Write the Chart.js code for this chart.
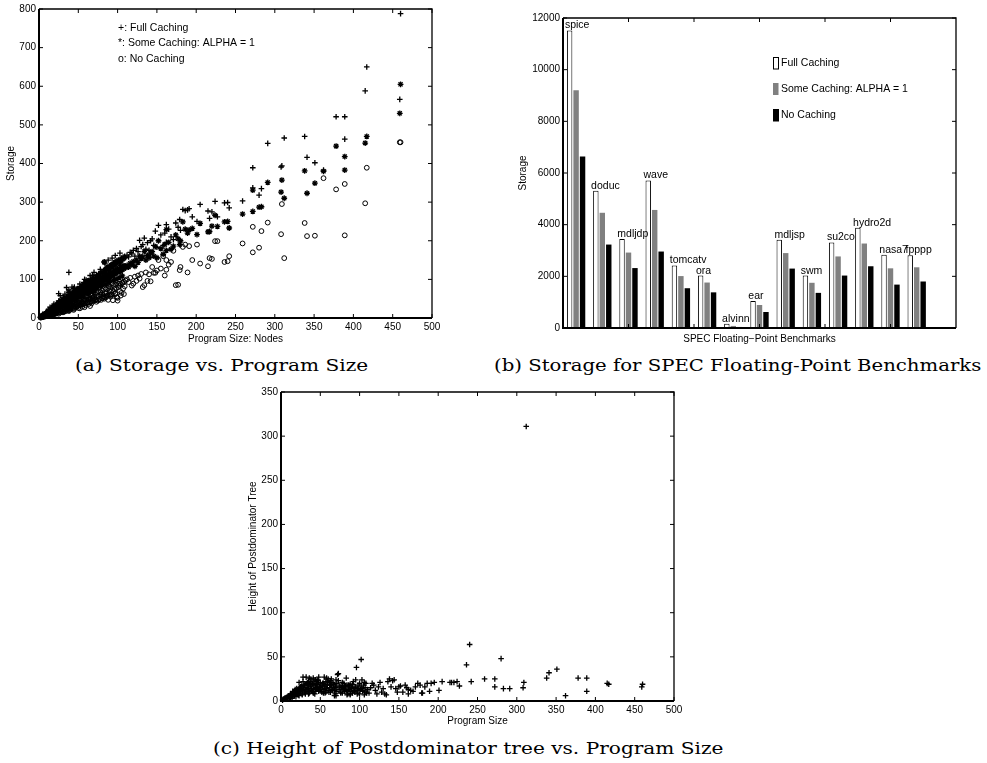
<!DOCTYPE html>
<html>
<head>
<meta charset="utf-8">
<script src="https://cdn.jsdelivr.net/npm/chart.js@4.4.1/dist/chart.umd.min.js"></script>
<style>
  html, body { margin: 0; padding: 0; background: #ffffff; }
  body { width: 987px; height: 763px; position: relative; overflow: hidden; }
  canvas { position: absolute; }
  .cap { position: absolute; white-space: nowrap; font-family: "DejaVu Serif", "Liberation Serif", serif;
         font-size: 17px; line-height: 20px; color: #000; transform-origin: 0 50%; }
</style>
</head>
<body>
<canvas id="chartA" width="445" height="350" style="left:0px;top:0px;"></canvas>
<canvas id="chartB" width="497" height="345" style="left:490px;top:0px;"></canvas>
<canvas id="chartC" width="460" height="350" style="left:230px;top:380px;"></canvas>
<div class="cap" id="capA">(a) Storage vs. Program Size</div>
<div class="cap" id="capB">(b) Storage for SPEC Floating-Point Benchmarks</div>
<div class="cap" id="capC">(c) Height of Postdominator tree vs. Program Size</div>
<script>
// ---------------- DATA ----------------
// One entry per program (same order in every array)
const progSize = [
  2,3,4,5,5,6,7,8,8,9,
  10,10,11,12,12,13,14,14,15,16,
  16,17,18,18,19,20,20,21,22,22,
  23,24,24,25,26,26,27,28,28,29,
  30,30,31,32,32,33,34,35,35,36,
  37,38,38,39,40,40,41,42,43,44,
  45,45,46,47,48,49,50,50,51,52,
  53,54,55,55,56,57,58,59,60,61,
  62,63,64,65,66,67,68,69,70,71,
  72,73,74,75,76,77,78,79,80,81,
  82,83,84,85,86,87,88,89,90,91,
  92,93,94,95,96,97,98,99,100,101,
  102,103,104,105,106,107,108,109,110,38,
  14,19,27,33,42,48,57,63,68,78,
  84,88,93,97,103,60,70,45,25,35,
  112,114,116,118,120,122,124,126,128,130,
  132,134,136,138,140,142,144,146,148,150,
  152,155,158,160,162,162,165,168,171,174,
  177,179,180,183,186,189,191,195,201,205,
  215,217,220,224,227,236,240,242,259,272,
  272,280,283,291,308,309,312,338,341,351,
  362,378,389,389,415,417,459,460,
  3,6,9,11,13,15,17,19,21,23,
  24,26,27,29,31,33,34,36,37,39,
  41,43,44,46,48,49,51,53,54,56,
  57,59,61,62,64,66,67,69,71,73,
  74,76,78,80,81,83,85,86,88,90,
  91,93,95,97,98,100,102,104,106,108,
  5,12,18,25,31,38,44,52,58,65,
  7,15,22,28,35,41,47,55,63,70
];
const fullCaching = [
  2,4,5,7,6,8,10,11,9,13,
  14,12,16,17,15,19,22,18,21,25,
  21,26,24,29,27,30,26,33,31,35,
  34,38,33,40,37,44,39,42,47,41,
  45,40,48,46,51,44,50,55,47,53,
  56,52,118,58,62,55,60,64,59,67,
  68,62,71,66,73,70,76,68,74,79,
  77,82,80,74,85,83,88,81,90,86,
  92,89,95,93,98,91,101,96,104,99,
  106,102,110,105,113,108,116,111,119,114,
  121,145,124,128,122,131,126,134,129,137,
  132,140,135,143,138,146,141,149,144,150,
  147,152,145,155,150,158,153,160,156,54,
  28,36,58,62,80,74,92,97,110,126,
  140,150,155,162,168,98,118,80,63,79,
  163,158,170,166,175,160,180,172,201,185,
  190,207,178,195,175,200,205,188,225,183,
  240,215,188,220,242,196,230,210,203,246,
  235,255,227,281,278,280,283,262,250,294,
  277,258,275,302,262,298,299,285,303,337,
  389,318,335,452,391,394,466,470,416,402,
  383,521,521,463,588,650,566,788,
  5,7,14,13,20,18,27,23,33,28,
  31,41,34,46,39,52,43,56,47,60,
  50,66,55,72,58,76,62,81,66,86,
  70,92,75,96,79,101,82,106,86,111,
  90,115,94,120,97,125,101,130,104,135,
  108,138,112,143,116,147,120,151,125,155,
  10,22,32,44,54,66,76,88,100,110,
  8,17,25,32,40,47,54,63,72,80
];
const someCaching = [
  2,3,4,6,5,7,8,9,8,11,
  12,10,13,14,13,16,18,15,18,20,
  18,21,20,24,22,25,22,27,26,29,
  28,31,28,33,31,36,33,35,39,34,
  37,34,40,38,42,37,41,45,39,44,
  46,43,70,48,51,45,50,53,49,55,
  56,51,58,55,60,57,63,56,61,65,
  64,68,66,61,70,69,72,67,74,71,
  76,73,78,77,81,75,83,79,86,82,
  88,84,91,87,93,89,96,92,98,94,
  99,145,102,105,100,108,104,110,106,113,
  109,116,111,118,114,121,117,123,119,125,
  122,127,120,129,125,131,128,134,130,45,
  17,23,35,43,55,61,76,80,90,103,
  118,125,130,137,140,81,96,66,38,51,
  136,132,142,138,146,134,150,144,160,154,
  158,172,150,162,156,168,172,160,185,156,
  200,180,165,190,229,175,196,178,186,215,
  205,190,200,249,230,220,228,232,216,245,
  223,224,238,266,237,249,250,233,269,276,
  331,287,288,351,326,357,310,381,323,349,
  380,445,418,383,453,470,530,605,
  4,6,12,12,17,16,23,21,28,25,
  27,35,30,40,34,45,37,48,41,51,
  44,57,48,62,51,65,54,70,58,74,
  61,79,65,83,68,87,71,91,75,95,
  79,99,82,104,85,108,88,112,91,116,
  95,119,98,124,101,127,105,131,109,135,
  8,19,27,37,46,56,65,75,85,94,
  7,15,22,28,35,41,47,55,63,70
];
const noCaching = [
  1,2,2,3,3,4,4,5,4,6,
  6,5,7,8,6,9,10,7,9,11,
  9,12,10,14,11,13,10,15,12,16,
  15,18,13,20,16,22,14,19,24,17,
  20,15,23,18,26,17,22,27,19,24,
  26,20,31,25,30,22,27,32,24,29,
  31,24,34,28,35,30,38,26,33,40,
  34,41,37,29,43,36,45,33,47,39,
  42,36,48,40,50,38,52,44,55,46,
  48,42,56,45,58,49,60,47,62,51,
  56,50,64,53,66,58,47,61,70,55,
  60,72,46,68,75,62,78,54,45,80,
  84,70,88,65,90,76,94,82,97,24,
  11,14,21,25,33,39,48,51,58,66,
  78,83,90,95,100,55,68,44,24,33,
  100,93,104,84,89,107,96,110,102,114,
  80,85,118,96,113,95,132,117,117,123,
  150,128,160,110,125,150,138,145,174,85,
  86,124,132,184,190,118,186,150,190,141,
  134,155,153,199,199,145,147,160,193,170,
  236,182,225,247,217,295,155,246,212,213,
  362,333,347,214,297,389,455,455,
  2,5,5,9,8,12,10,16,13,19,
  20,17,23,19,27,21,29,23,32,26,
  35,27,38,30,41,32,45,35,48,37,
  50,38,53,40,56,43,59,45,62,47,
  65,49,68,52,71,54,74,57,77,59,
  80,61,83,64,86,52,89,58,92,62,
  3,6,8,11,15,18,21,25,28,31,
  5,10,16,20,26,30,35,41,47,52
];
const pdtHeight = [
  1,2,2,3,2,3,4,4,3,5,
  4,6,5,7,4,6,8,5,9,7,
  10,6,11,8,12,9,14,10,13,7,
  21,11,15,9,14,17,12,27,16,13,
  10,18,13,27,15,11,19,14,22,26,
  12,25,17,14,20,11,26,24,18,13,
  22,14,19,24,12,17,21,15,11,18,
  16,20,13,19,9,22,14,18,12,21,
  15,10,19,13,21,17,12,8,16,20,
  30,31,13,18,10,15,9,14,20,11,
  16,12,18,8,13,17,7,11,14,9,
  22,15,10,16,38,12,18,14,8,13,
  47,24,11,18,7,15,20,9,13,22,
  3,5,8,20,9,27,10,23,6,17,
  7,19,12,8,14,25,6,20,12,8,
  9,15,20,18,12,8,16,21,10,14,
  8,7,22,25,16,23,24,14,10,16,
  17,10,18,15,13,8,12,11,16,20,
  18,9,9,16,20,11,20,21,12,22,
  21,21,21,22,17,41,64,22,25,16,
  25,48,14,14,15,21,311,26,32,36,
  6,26,26,11,20,19,16,19,
  2,3,5,4,7,6,9,8,12,6,
  11,14,7,18,10,13,21,9,16,12,
  19,8,15,23,11,16,13,20,9,17,
  14,22,10,18,25,12,19,15,11,23,
  16,9,21,13,17,26,12,18,8,15,
  19,11,24,14,9,20,16,12,21,10,
  3,8,13,16,8,20,24,10,26,13,
  4,11,7,22,18,9,14,27,18,24
];

// SPEC floating-point benchmarks (panel b)
const benchmarks = ['spice','doduc','mdljdp','wave','tomcatv','ora','alvinn','ear','mdljsp','swm','su2co','hydro2d','nasa7','fpppp'];
const benchFull = [11520, 5310, 3450, 5710, 2420, 2030, 160, 1050, 3420, 2030, 3310, 3880, 2840, 2820];
const benchSome = [9200, 4460, 2920, 4570, 2010, 1760, 80, 890, 2900, 1750, 2770, 3270, 2310, 2350];
const benchNone = [6640, 3230, 2320, 2960, 1540, 1380, 40, 620, 2300, 1360, 2030, 2390, 1680, 1800];
const benchTickSlots = [2.5, 5, 7.5, 10, 12.5];

const scatterLegend = ['+: Full Caching', '*: Some Caching: ALPHA = 1', 'o: No Caching'];
const barLegend = ['Full Caching', 'Some Caching: ALPHA = 1', 'No Caching'];

[fullCaching, someCaching, noCaching, pdtHeight].forEach((a, k) => {
  if (a.length !== progSize.length) throw new Error('length mismatch in array ' + k + ': ' + a.length + ' vs ' + progSize.length);
});

// ---------------- HELPERS ----------------
const AXFONT = { family: '"Liberation Sans", Arial, Helvetica, sans-serif', size: 10 };
const LBLFONT = '10.5px "Liberation Sans", Arial, Helvetica, sans-serif';

const frameTicks = {
  id: 'frameTicks',
  afterDraw(chart, args, opts) {
    const { ctx, chartArea: a } = chart;
    const xs = chart.scales.x, ys = chart.scales.y;
    const L = 4;
    ctx.save();
    ctx.strokeStyle = '#000';
    ctx.lineWidth = 1;
    ctx.beginPath();
    const xPix = (opts && opts.slots)
      ? opts.slots.map(s => xs.getPixelForValue(s - 0.5))
      : xs.ticks.map(t => xs.getPixelForValue(t.value));
    xPix.forEach(p => {
      ctx.moveTo(p, a.bottom); ctx.lineTo(p, a.bottom - L);
      ctx.moveTo(p, a.top); ctx.lineTo(p, a.top + L);
    });
    ys.ticks.forEach(t => {
      const p = ys.getPixelForValue(t.value);
      ctx.moveTo(a.left, p); ctx.lineTo(a.left + L, p);
      ctx.moveTo(a.right, p); ctx.lineTo(a.right - L, p);
    });
    ctx.stroke();
    ctx.lineWidth = 1.3;
    ctx.beginPath();
    ctx.moveTo(a.left, a.top); ctx.lineTo(a.right, a.top); ctx.lineTo(a.right, a.bottom);
    ctx.stroke();
    ctx.lineWidth = 2;
    ctx.beginPath();
    ctx.moveTo(a.left, a.top); ctx.lineTo(a.left, a.bottom); ctx.lineTo(a.right, a.bottom);
    ctx.stroke();
    ctx.restore();
  }
};

function linAxis(min, max, step, title, fixed, horizontal, titlePad, tickPad) {
  return {
    type: 'linear', min: min, max: max,
    ticks: { stepSize: step, color: '#000', font: AXFONT, padding: tickPad, autoSkip: false, maxRotation: 0,
             callback: v => String(v) },
    grid: { display: false, drawTicks: false },
    border: { display: false },
    title: { display: true, text: title, color: '#000', font: AXFONT, padding: titlePad },
    afterFit(scale) { if (horizontal) scale.height = fixed; else scale.width = fixed; }
  };
}

// ---------------- PANEL A ----------------
const scatterLegendPlugin = {
  id: 'scatterLegendPlugin',
  afterDraw(chart) {
    const { ctx, chartArea: a } = chart;
    ctx.save();
    ctx.fillStyle = '#000';
    ctx.font = LBLFONT;
    ctx.textBaseline = 'middle';
    ctx.textAlign = 'left';
    const dy = [19, 34.5, 50.5];
    scatterLegend.forEach((t, i) => ctx.fillText(t, a.left + 79, a.top + dy[i]));
    ctx.restore();
  }
};

new Chart(document.getElementById('chartA'), {
  type: 'scatter',
  data: {
    datasets: [
      { label: 'Full Caching', data: progSize.map((x, i) => ({ x: x, y: fullCaching[i] })),
        pointStyle: 'cross', radius: 2.8, borderColor: '#000', borderWidth: 1.3, clip: false },
      { label: 'Some Caching', data: progSize.map((x, i) => ({ x: x, y: someCaching[i] })),
        pointStyle: 'star', radius: 2.9, borderColor: '#000', borderWidth: 1.3, clip: false },
      { label: 'No Caching', data: progSize.map((x, i) => ({ x: x, y: noCaching[i] })),
        pointStyle: 'circle', radius: 2.4, borderColor: '#000', backgroundColor: 'rgba(0,0,0,0)', borderWidth: 1, clip: false }
    ]
  },
  options: {
    responsive: false, animation: false, devicePixelRatio: 1,
    layout: { padding: { left: 0, top: 9, right: 13, bottom: 0 } },
    plugins: { legend: { display: false }, tooltip: { enabled: false }, frameTicks: {} },
    scales: {
      x: linAxis(0, 500, 50, 'Program Size: Nodes', 32, true, { top: 0, bottom: 5 }, 3),
      y: linAxis(0, 800, 100, 'Storage', 39, false, { top: 5, bottom: 0 }, 3)
    }
  },
  plugins: [frameTicks, scatterLegendPlugin]
});

// ---------------- PANEL B ----------------
const barLabelPlugin = {
  id: 'barLabelPlugin',
  afterDatasetsDraw(chart) {
    const { ctx, chartArea: a } = chart;
    const meta = chart.getDatasetMeta(0);
    ctx.save();
    ctx.fillStyle = '#000';
    ctx.font = LBLFONT;
    ctx.textAlign = 'left';
    ctx.textBaseline = 'alphabetic';
    benchmarks.forEach((name, i) => {
      const el = meta.data[i];
      if (!el) return;
      ctx.fillText(name, el.x - el.width / 2 - 2, el.y - 2);
    });
    // legend
    const colors = ['#ffffff', '#808080', '#000000'];
    const dy = [45, 71, 97];
    barLegend.forEach((t, i) => {
      const x = a.left + 210, y = a.top + dy[i];
      ctx.fillStyle = colors[i];
      ctx.fillRect(x, y - 6, 5.5, 12);
      if (i !== 1) { ctx.strokeStyle = '#000'; ctx.lineWidth = 1; ctx.strokeRect(x + 0.5, y - 5.5, 5, 11.5); }
      ctx.fillStyle = '#000';
      ctx.textBaseline = 'middle';
      ctx.fillText(t, x + 8, y + 0.5);
    });
    ctx.restore();
  }
};

new Chart(document.getElementById('chartB'), {
  type: 'bar',
  data: {
    labels: benchmarks.concat(['']),
    datasets: [
      { label: barLegend[0], data: benchFull, backgroundColor: '#ffffff', borderColor: '#000', borderWidth: 1 },
      { label: barLegend[1], data: benchSome, backgroundColor: '#808080', borderWidth: 0 },
      { label: barLegend[2], data: benchNone, backgroundColor: '#000000', borderWidth: 0 }
    ]
  },
  options: {
    responsive: false, animation: false, devicePixelRatio: 1,
    categoryPercentage: 0.74, barPercentage: 0.84,
    layout: { padding: { left: 0, top: 18, right: 31, bottom: 0 } },
    plugins: { legend: { display: false }, tooltip: { enabled: false }, frameTicks: { slots: benchTickSlots } },
    scales: {
      x: {
        type: 'category', offset: true,
        ticks: { display: false },
        grid: { display: false, drawTicks: false },
        border: { display: false },
        title: { display: true, text: 'SPEC Floating\u2212Point Benchmarks', color: '#000', font: AXFONT, padding: { top: 0, bottom: 0 } },
        afterFit(scale) { scale.height = 17; }
      },
      y: linAxis(0, 12000, 2000, 'Storage', 73, false, { top: 27, bottom: 0 }, 3)
    }
  },
  plugins: [frameTicks, barLabelPlugin]
});

// ---------------- PANEL C ----------------
new Chart(document.getElementById('chartC'), {
  type: 'scatter',
  data: {
    datasets: [
      { label: 'Height', data: progSize.map((x, i) => ({ x: x, y: pdtHeight[i] })),
        pointStyle: 'cross', radius: 2.8, borderColor: '#000', borderWidth: 1.3, clip: false }
    ]
  },
  options: {
    responsive: false, animation: false, devicePixelRatio: 1,
    layout: { padding: { left: 0, top: 12, right: 16, bottom: 0 } },
    plugins: { legend: { display: false }, tooltip: { enabled: false }, frameTicks: {} },
    scales: {
      x: linAxis(0, 500, 50, 'Program Size', 29, true, { top: 0, bottom: 3 }, 3),
      y: linAxis(0, 350, 50, 'Height of Postdominator Tree', 51, false, { top: 17, bottom: 0 }, 3)
    }
  },
  plugins: [frameTicks]
});

// ---------------- CAPTIONS ----------------
(function () {
  const a = document.getElementById('capA'), b = document.getElementById('capB'), c = document.getElementById('capC');
  const s = 511 / c.offsetWidth;
  const sb = 487 / b.offsetWidth;
  a.style.transform = 'scaleX(' + s + ')';
  c.style.transform = 'scaleX(' + s + ')';
  b.style.transform = 'scaleX(' + sb + ')';
  c.style.left = '213px'; c.style.top = (748 - 10) + 'px';
  b.style.left = '494px'; b.style.top = (365 - 10) + 'px';
  a.style.left = (368 - a.offsetWidth * s) + 'px'; a.style.top = (365 - 10) + 'px';
})();
</script>
</body>
</html>
